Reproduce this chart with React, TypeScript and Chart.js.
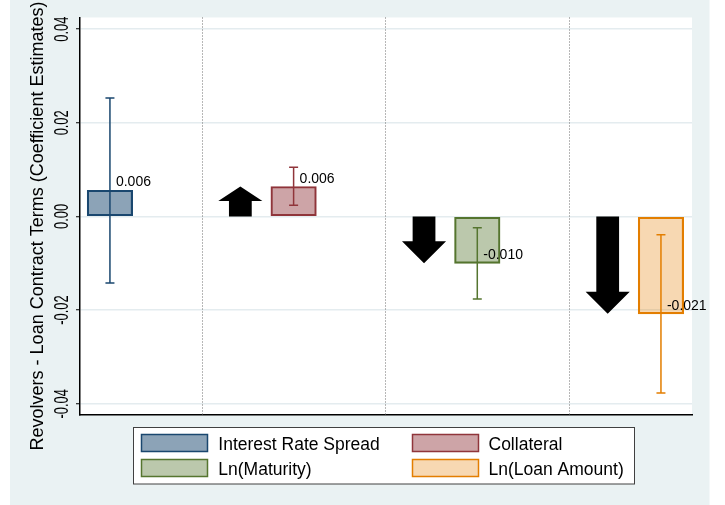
import { useEffect, useRef } from "react";
import { Chart, registerables } from "chart.js";

Chart.register(...registerables);

// Coefficient estimates for revolvers, one bar per loan contract term
const seriesNames = ["Interest Rate Spread", "Collateral", "Ln(Maturity)", "Ln(Loan Amount)"];
const groupPositions = [1, 2, 3, 4];
const coefficients = [0.0056, 0.0064, -0.01, -0.0208];
const ciLower = [-0.0142, 0.0024, -0.0176, -0.0377];
const ciUpper = [0.0253, 0.0105, -0.0024, -0.0039];
// expected sign of each effect: 1 = up arrow, -1 = down arrow, 0 = none
const arrowDirections = [0, 1, -1, -1];
const separatorPositions = [1.5, 2.5, 3.5];
const yTickValues = [-0.04, -0.02, 0, 0.02, 0.04];
const yTickLabels = ["-0.04", "-0.02", "0.00", "0.02", "0.04"];
const yAxisTitle = "Revolvers - Loan Contract Terms (Coefficient Estimates)";

const lineColors = ["#1A476F", "#90353B", "#55752F", "#E37E00"];
const fillColors = [
  "rgba(26,71,111,0.5)",
  "rgba(144,53,59,0.45)",
  "rgba(85,117,47,0.4)",
  "rgba(227,126,0,0.3)",
];

const FONT = "'Liberation Sans', Arial, Helvetica, sans-serif";
const REGION_BG = "#EAF2F3";

const stataPlugin = {
  id: "stataDecor",
  beforeDraw(chart: any) {
    const { ctx, chartArea, width, height } = chart;
    ctx.save();
    ctx.fillStyle = "#FFFFFF";
    ctx.fillRect(0, 0, width, height);
    ctx.fillStyle = REGION_BG;
    ctx.fillRect(10, 0, 699.5, height);
    ctx.fillStyle = "#FFFFFF";
    ctx.fillRect(chartArea.left, chartArea.top, chartArea.right - chartArea.left, chartArea.bottom - chartArea.top);
    ctx.restore();
  },
  beforeDatasetsDraw(chart: any) {
    const { ctx, chartArea, scales } = chart;
    ctx.save();
    ctx.strokeStyle = "#6E6E6E";
    ctx.lineWidth = 1;
    ctx.setLineDash([1, 2]);
    for (const s of separatorPositions) {
      const x = Math.round(scales.x.getPixelForValue(s)) + 0.5;
      ctx.beginPath();
      ctx.moveTo(x, chartArea.top);
      ctx.lineTo(x, chartArea.bottom);
      ctx.stroke();
    }
    ctx.restore();
  },
  afterDatasetsDraw(chart: any) {
    const { ctx, scales } = chart;
    const xs = scales.x;
    const ys = scales.y;
    ctx.save();
    // direction arrows
    const unit = xs.getPixelForValue(2) - xs.getPixelForValue(1);
    ctx.fillStyle = "#000000";
    groupPositions.forEach((p, i) => {
      const dir = arrowDirections[i];
      if (!dir) return;
      const cx = xs.getPixelForValue(p - 0.29);
      const headHalf = unit * 0.12;
      const shaftHalf = unit * 0.062;
      const base = ys.getPixelForValue(0);
      const tip = ys.getPixelForValue(coefficients[i]);
      const headLen = dir > 0 ? 14.5 : 22;
      const neck = tip + (dir > 0 ? headLen : -headLen);
      ctx.beginPath();
      ctx.moveTo(cx - shaftHalf, base);
      ctx.lineTo(cx - shaftHalf, neck);
      ctx.lineTo(cx - headHalf, neck);
      ctx.lineTo(cx, tip);
      ctx.lineTo(cx + headHalf, neck);
      ctx.lineTo(cx + shaftHalf, neck);
      ctx.lineTo(cx + shaftHalf, base);
      ctx.closePath();
      ctx.fill();
    });
    // confidence intervals
    groupPositions.forEach((p, i) => {
      const x = xs.getPixelForValue(p);
      const yLo = ys.getPixelForValue(ciLower[i]);
      const yHi = ys.getPixelForValue(ciUpper[i]);
      ctx.strokeStyle = lineColors[i];
      ctx.lineWidth = 1.5;
      ctx.beginPath();
      ctx.moveTo(x, yLo);
      ctx.lineTo(x, yHi);
      ctx.moveTo(x - 4.5, yLo);
      ctx.lineTo(x + 4.5, yLo);
      ctx.moveTo(x - 4.5, yHi);
      ctx.lineTo(x + 4.5, yHi);
      ctx.stroke();
    });
    // value labels
    ctx.fillStyle = "#000000";
    ctx.font = `14px ${FONT}`;
    ctx.textAlign = "left";
    ctx.textBaseline = "alphabetic";
    groupPositions.forEach((p, i) => {
      const x = xs.getPixelForValue(p) + 6;
      const y = ys.getPixelForValue(coefficients[i]) - 4;
      ctx.fillText(coefficients[i].toFixed(3), x, y);
    });
    ctx.restore();
  },
  afterDraw(chart: any) {
    const { ctx, scales } = chart;
    const ys = scales.y;
    ctx.save();
    ctx.fillStyle = "#000000";
    // rotated, condensed tick labels
    ctx.font = `19.5px ${FONT}`;
    ctx.textAlign = "center";
    ctx.textBaseline = "alphabetic";
    yTickValues.forEach((v, i) => {
      ctx.save();
      ctx.translate(68, ys.getPixelForValue(v));
      ctx.rotate(-Math.PI / 2);
      ctx.scale(0.66, 1);
      ctx.fillText(yTickLabels[i], 0, 0);
      ctx.restore();
    });
    // axis title
    ctx.font = `18px ${FONT}`;
    ctx.save();
    ctx.translate(43, 226);
    ctx.rotate(-Math.PI / 2);
    ctx.fillText(yAxisTitle, 0, 0);
    ctx.restore();

    // legend
    const box = { x: 133.5, y: 427.5, w: 501, h: 56.5 };
    ctx.fillStyle = "#FFFFFF";
    ctx.fillRect(box.x, box.y, box.w, box.h);
    ctx.strokeStyle = "#404040";
    ctx.lineWidth = 1;
    ctx.strokeRect(box.x, box.y, box.w, box.h);
    const colX = [141.5, 412.5];
    const rowY = [434.5, 459.5];
    const textX = [218.3, 488.5];
    ctx.font = `17.5px ${FONT}`;
    ctx.textAlign = "left";
    seriesNames.forEach((name, i) => {
      const col = i % 2;
      const row = Math.floor(i / 2);
      ctx.fillStyle = "#FFFFFF";
      ctx.fillRect(colX[col], rowY[row], 66, 17);
      ctx.fillStyle = fillColors[i];
      ctx.fillRect(colX[col], rowY[row], 66, 17);
      ctx.strokeStyle = lineColors[i];
      ctx.lineWidth = 1.5;
      ctx.strokeRect(colX[col], rowY[row], 66, 17);
      ctx.fillStyle = "#000000";
      ctx.fillText(name, textX[col], rowY[row] + 15.3);
    });
    ctx.restore();
  },
};

export default function App() {
  const canvasRef = useRef<HTMLCanvasElement | null>(null);

  useEffect(() => {
    if (!canvasRef.current) return;
    const chart = new Chart(canvasRef.current, {
      type: "bar",
      data: {
        datasets: seriesNames.map((name, i) => ({
          label: name,
          data: [{ x: groupPositions[i], y: coefficients[i] }],
          backgroundColor: fillColors[i],
          borderColor: lineColors[i],
          borderWidth: 1.5,
          borderSkipped: false,
          barThickness: 45.5,
          grouped: false,
        })),
      },
      options: {
        responsive: false,
        animation: false,
        devicePixelRatio: 1,
        layout: { padding: { left: 76, top: 17.5, right: 33, bottom: 90 } },
        plugins: { legend: { display: false }, tooltip: { enabled: false } },
        scales: {
          x: {
            type: "linear",
            offset: false,
            min: 0.837,
            max: 4.169,
            ticks: { display: false },
            grid: { display: false, drawTicks: false, offset: false },
            border: { display: true, color: "#000000", width: 1.5 },
          },
          y: {
            min: -0.0424,
            max: 0.0425,
            afterBuildTicks: (axis: any) => {
              axis.ticks = yTickValues.map((v) => ({ value: v }));
            },
            ticks: { display: false },
            grid: {
              color: "#E4ECEF",
              lineWidth: 1.5,
              drawTicks: true,
              tickLength: 4,
              tickColor: "#000000",
              tickWidth: 1,
            },
            border: { display: true, color: "#000000", width: 1.5 },
          },
        },
      },
      plugins: [stataPlugin],
    });
    return () => chart.destroy();
  }, []);

  return (
    <div style={{ position: "absolute", left: 0, top: 0, width: 725, height: 505 }}>
      <canvas ref={canvasRef} width={725} height={505} />
    </div>
  );
}
